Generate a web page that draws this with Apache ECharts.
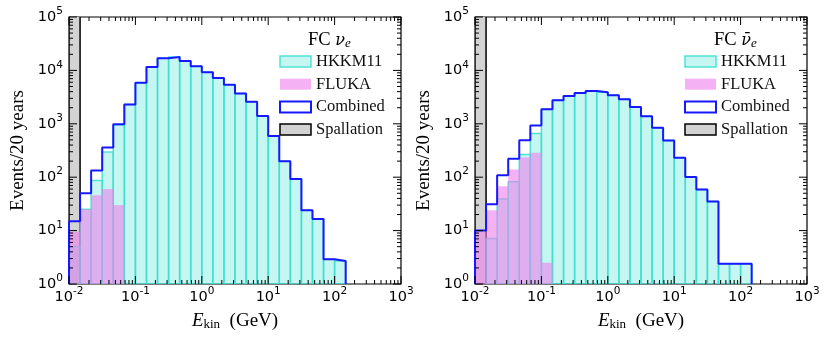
<!DOCTYPE html>
<html><head><meta charset="utf-8">
<script src="https://cdn.jsdelivr.net/npm/echarts@6/dist/echarts.min.js"></script>
<style>html,body{margin:0;padding:0;background:#fff}#c{width:830px;height:341px}</style>
</head><body><div id="c"></div>
<script>
// Histogram bin edges (GeV), 6 log bins per decade
const binEdges = [0.01, 0.01468, 0.02154, 0.03162, 0.04642, 0.06813, 0.1, 0.1468, 0.2154, 0.3162, 0.4642, 0.6813,
  1, 1.468, 2.154, 3.162, 4.642, 6.813, 10, 14.68, 21.54, 31.62, 46.42, 68.13, 100, 146.8];

// Left panel: FC nu_e
const nueHKKM = [5, 25, 87, 295, 950, 2290, 5900, 11600, 16900, 17900, 15000, 12000, 9200, 7200, 5400, 3700, 2600, 1400, 590, 200, 93, 24, 16.5, 2.9, 2.7];
const nueFLUKA = [9.5, 25, 46, 60, 30, 0, 0, 0, 0, 0, 0, 0, 0, 0, 0, 0, 0, 0, 0, 0, 0, 0, 0, 0, 0];
const nueCombined = [15, 50, 134, 360, 980, 2290, 5900, 11600, 16900, 17900, 15000, 12000, 9200, 7200, 5400, 3700, 2600, 1400, 590, 200, 93, 24, 16.5, 2.9, 2.7];
const nueSpallation = [3e6];

// Right panel: FC anti-nu_e
const nuebarHKKM = [0, 7.1, 39, 82, 266, 658, 1880, 2770, 3320, 3760, 4130, 3900, 3430, 2880, 2070, 1390, 840, 486, 231, 101, 59, 35, 2.4, 2.4, 2.4];
const nuebarFLUKA = [9.5, 24, 68, 140, 234, 286, 2.5, 0, 0, 0, 0, 0, 0, 0, 0, 0, 0, 0, 0, 0, 0, 0, 0, 0, 0];
const nuebarCombined = [10, 31, 109, 221, 493, 929, 1880, 2770, 3320, 3760, 4130, 3900, 3430, 2880, 2070, 1390, 840, 486, 231, 101, 59, 35, 2.4, 2.4, 2.4];
const nuebarSpallation = [3e6];

const xTickPowers = [-2, -1, 0, 1, 2, 3];
const yTickPowers = [0, 1, 2, 3, 4, 5];

const X_MIN = 0.01, X_MAX = 1000, Y_MIN = 1, Y_MAX = 1e5;

const C_HK_FILL = 'rgba(64,224,208,0.30)', C_HK_EDGE = 'rgba(64,224,208,0.9)';
const C_FL_FILL = 'rgba(238,130,238,0.62)';
const C_BLUE = '#1818ff';
const SERIF = 'Liberation Serif';
const SANS = 'DejaVu Sans';

function binData(vals) {
  const out = [];
  vals.forEach((v, i) => { if (v > 0) out.push([binEdges[i], binEdges[i + 1], v]); });
  return out;
}
function stepData(vals) {
  const n = vals.length;
  const pts = [[binEdges[0], Y_MIN]];
  for (let i = 0; i < n; i++) pts.push([binEdges[i], vals[i]]);
  pts.push([binEdges[n], vals[n - 1]]);
  pts.push([binEdges[n], Y_MIN]);
  return pts;
}
function barRender(fill, stroke, lw) {
  return function (params, api) {
    const lo = api.value(0), hi = api.value(1), v = api.value(2);
    const p0 = api.coord([lo, v]), p1 = api.coord([hi, Y_MIN]);
    return { type: 'rect', shape: { x: p0[0], y: p0[1], width: p1[0] - p0[0], height: p1[1] - p0[1] },
      style: { fill: fill, stroke: stroke || null, lineWidth: lw || 0 } };
  };
}
// tick data: [x, y, kind]  kind 0 minor-x, 1 major-x, 2 minor-y, 3 major-y
const tickData = [];
xTickPowers.forEach((p, k) => {
  tickData.push([Math.pow(10, p), Y_MIN, 1]);
  if (k < xTickPowers.length - 1) for (let m = 2; m <= 9; m++) tickData.push([m * Math.pow(10, p), Y_MIN, 0]);
});
yTickPowers.forEach((p, k) => {
  tickData.push([X_MIN, Math.pow(10, p), 3]);
  if (k < yTickPowers.length - 1) for (let m = 2; m <= 9; m++) tickData.push([X_MIN, m * Math.pow(10, p), 2]);
});
function tickRender(params, api) {
  const kind = api.value(2);
  const st = { stroke: '#000', lineWidth: 1 };
  if (kind <= 1) {
    const len = kind === 1 ? 8 : 4;
    const xv = api.value(0);
    const b = api.coord([xv, Y_MIN]), t = api.coord([xv, Y_MAX]);
    return { type: 'group', children: [
      { type: 'line', shape: { x1: b[0], y1: b[1], x2: b[0], y2: b[1] - len }, style: st },
      { type: 'line', shape: { x1: t[0], y1: t[1], x2: t[0], y2: t[1] + len }, style: st }] };
  } else {
    const len = kind === 3 ? 8 : 4;
    const yv = api.value(1);
    const l = api.coord([X_MIN, yv]), r = api.coord([X_MAX, yv]);
    return { type: 'group', children: [
      { type: 'line', shape: { x1: l[0], y1: l[1], x2: l[0] + len, y2: l[1] }, style: st },
      { type: 'line', shape: { x1: r[0], y1: r[1], x2: r[0] - len, y2: r[1] }, style: st }] };
  }
}

const labelRich = {
  b: { fontSize: 14.5, fontFamily: SANS, color: '#000' },
  s: { fontSize: 10.5, fontFamily: SANS, color: '#000', padding: [0, 0, 11, 0] }
};
function powLabel(v) { return '{b|10}{s|' + Math.round(Math.log10(v)) + '}'; }

function xAxisCfg(gi) {
  return {
    type: 'log', logBase: 10, gridIndex: gi, min: X_MIN, max: X_MAX, splitNumber: 5,
    axisLine: { show: false }, axisTick: { show: false }, splitLine: { show: false },
    axisLabel: { formatter: powLabel, rich: labelRich, margin: 2, showMinLabel: true, showMaxLabel: true, hideOverlap: false },
    name: '{i|E}{sub|kin}{n|  (GeV)}', nameLocation: 'middle', nameGap: 27,
    nameTextStyle: { rich: {
      i: { fontFamily: SERIF, fontStyle: 'italic', fontSize: 19, color: '#000' },
      sub: { fontFamily: SERIF, fontSize: 13, color: '#000', padding: [7, 0, 0, 0] },
      n: { fontFamily: SERIF, fontSize: 19, color: '#000' } } }
  };
}
function yAxisCfg(gi) {
  return {
    type: 'log', logBase: 10, gridIndex: gi, min: Y_MIN, max: Y_MAX, splitNumber: 5,
    axisLine: { show: false }, axisTick: { show: false }, splitLine: { show: false },
    axisLabel: { formatter: powLabel, rich: labelRich, margin: 6, showMinLabel: true, showMaxLabel: true, hideOverlap: false },
    name: 'Events/20 years', nameLocation: 'middle', nameGap: 41, nameRotate: 90,
    nameTextStyle: { fontFamily: SERIF, fontSize: 19, color: '#000' }
  };
}
function panelSeries(gi, hk, fl, comb, sp) {
  return [
    { type: 'custom', name: 'Spallation', xAxisIndex: gi, yAxisIndex: gi, clip: true, encode: { x: [0, 1], y: 2 },
      itemStyle: { color: '#d3d3d3' }, renderItem: barRender('#d3d3d3', '#000', 1.5), data: binData(sp) },
    { type: 'custom', name: 'HKKM11', xAxisIndex: gi, yAxisIndex: gi, clip: true, encode: { x: [0, 1], y: 2 },
      itemStyle: { color: C_HK_FILL }, renderItem: barRender(C_HK_FILL, C_HK_EDGE, 1.5), data: binData(hk) },
    { type: 'custom', name: 'FLUKA', xAxisIndex: gi, yAxisIndex: gi, clip: true, encode: { x: [0, 1], y: 2 },
      itemStyle: { color: C_FL_FILL }, renderItem: barRender(C_FL_FILL, null, 0), data: binData(fl) },
    { type: 'line', name: 'Combined', xAxisIndex: gi, yAxisIndex: gi, step: 'end', symbol: 'none', clip: true,
      lineStyle: { color: C_BLUE, width: 2 }, itemStyle: { color: C_BLUE }, data: stepData(comb), animation: false },
    { type: 'custom', xAxisIndex: gi, yAxisIndex: gi, clip: false, encode: { x: 0, y: 1 }, silent: true,
      renderItem: tickRender, data: tickData, z: 10 }
  ];
}
function legendCfg(left) {
  return {
    left: left, top: 53, padding: 0, orient: 'vertical', itemWidth: 31, itemHeight: 11, itemGap: 5.7,
    selectedMode: false,
    textStyle: { fontFamily: SERIF, fontSize: 16.5, lineHeight: 16, color: '#111' },
    data: [
      { name: 'HKKM11', icon: 'rect', itemStyle: { color: C_HK_FILL, borderColor: C_HK_EDGE, borderWidth: 1.5 } },
      { name: 'FLUKA', icon: 'rect', itemStyle: { color: C_FL_FILL, borderWidth: 0 } },
      { name: 'Combined', icon: 'rect', itemStyle: { color: '#fff', borderColor: C_BLUE, borderWidth: 2 } },
      { name: 'Spallation', icon: 'rect', itemStyle: { color: '#d3d3d3', borderColor: '#000', borderWidth: 1.5 } }
    ]
  };
}
const titleRich = {
  n: { fontFamily: SERIF, fontSize: 18.5, color: '#111' },
  i: { fontFamily: 'DejaVu Serif', fontStyle: 'italic', fontSize: 16, color: '#111' },
  sub: { fontFamily: SERIF, fontStyle: 'italic', fontSize: 13, color: '#111', padding: [7, 0, 0, 0] }
};

const chart = echarts.init(document.getElementById('c'), null, { renderer: 'canvas' });
chart.setOption({
  animation: false,
  grid: [
    { left: 69, top: 17, width: 332, height: 267, show: true, borderColor: '#000', borderWidth: 1.2, backgroundColor: 'transparent' },
    { left: 475, top: 17, width: 332, height: 267, show: true, borderColor: '#000', borderWidth: 1.2, backgroundColor: 'transparent' }
  ],
  xAxis: [xAxisCfg(0), xAxisCfg(1)],
  yAxis: [yAxisCfg(0), yAxisCfg(1)],
  legend: [legendCfg(279), legendCfg(684)],
  graphic: [
    { type: 'text', left: 308, top: 31, style: { text: '{n|FC }{i|ν}{sub|e}', rich: titleRich } },
    { type: 'text', left: 714, top: 31, style: { text: '{n|FC }{i|ν̄}{sub|e}', rich: titleRich } }
  ],
  series: [].concat(
    panelSeries(0, nueHKKM, nueFLUKA, nueCombined, nueSpallation),
    panelSeries(1, nuebarHKKM, nuebarFLUKA, nuebarCombined, nuebarSpallation)
  )
});
</script></body></html>
